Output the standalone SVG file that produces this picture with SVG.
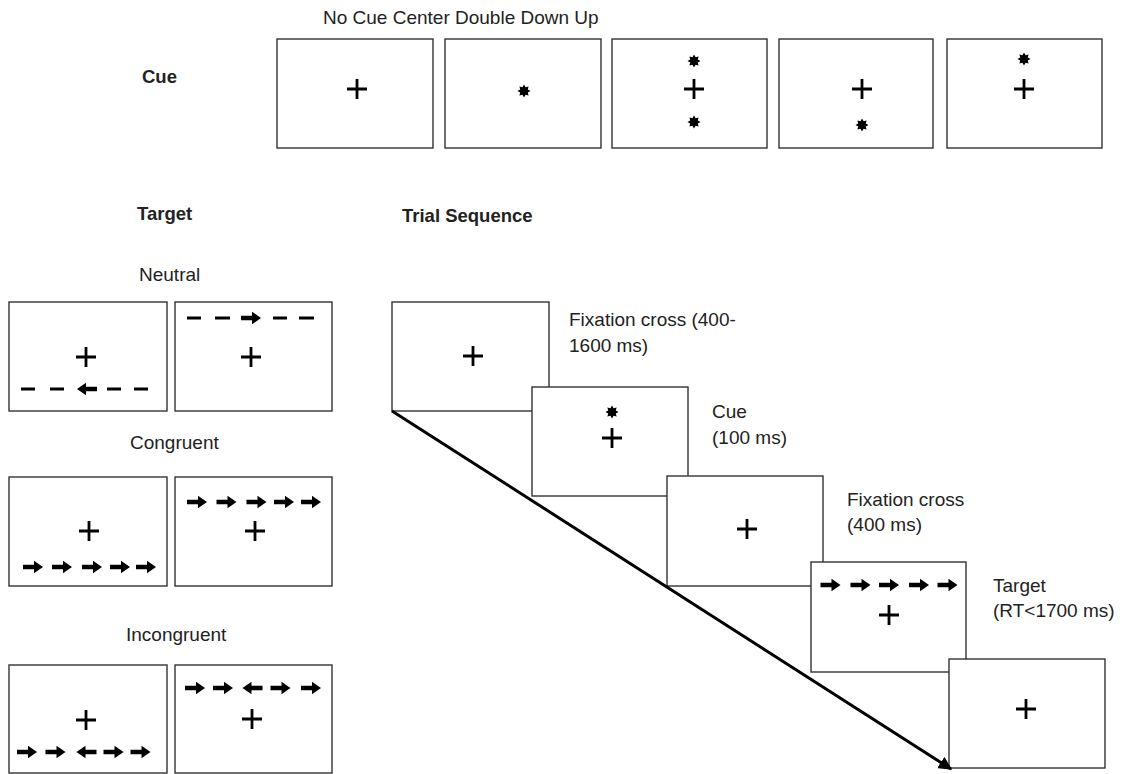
<svg xmlns="http://www.w3.org/2000/svg" xmlns:xlink="http://www.w3.org/1999/xlink" width="1131" height="774" viewBox="0 0 1131 774">
<style>
.box{fill:#fff;stroke:#333;stroke-width:1.4}
.t{font-family:"Liberation Sans",Arial,sans-serif;font-size:19px;fill:#222}
.b{font-family:"Liberation Sans",Arial,sans-serif;font-size:18.5px;font-weight:bold;fill:#222}
.dash{stroke:#000;stroke-width:3.2}
</style>
<defs>
<g id="cross"><path d="M-10,0H10M0,-10V10" stroke="#000" stroke-width="2.8" fill="none"/></g>
<polygon id="star" points="0,-6.5 1.6,-3.8 4.6,-4.6 3.8,-1.6 6.5,0 3.8,1.6 4.6,4.6 1.6,3.8 0,6.5 -1.6,3.8 -4.6,4.6 -3.8,1.6 -6.5,0 -3.8,-1.6 -4.6,-4.6 -1.6,-3.8" fill="#000"/>
<polygon id="ar" points="-10,-2.3 1,-2.3 1,-6.3 10,0 1,6.3 1,2.3 -10,2.3" fill="#000"/>
<g id="al"><use xlink:href="#ar" transform="scale(-1,1)"/></g>
<marker id="head" viewBox="0 0 10 10" refX="9" refY="5" markerWidth="4.5" markerHeight="4.5" orient="auto" markerUnits="strokeWidth"><path d="M0,0L10,5L0,10z" fill="#000"/></marker>
</defs>

<text class="t" x="323" y="24">No Cue Center Double Down Up</text>
<text class="b" x="142" y="83">Cue</text>
<text class="b" x="137" y="220">Target</text>
<text class="b" x="402" y="222">Trial Sequence</text>

<g id="cue-nocue"><rect class="box" x="277" y="39" width="156" height="109"/><use xlink:href="#cross" x="357" y="89"/></g>
<g id="cue-center"><rect class="box" x="445" y="39" width="156" height="109"/><use xlink:href="#star" x="524" y="91"/></g>
<g id="cue-double"><rect class="box" x="612" y="39" width="155" height="109"/><use xlink:href="#star" x="694" y="61"/><use xlink:href="#cross" x="694" y="89"/><use xlink:href="#star" x="694" y="122"/></g>
<g id="cue-down"><rect class="box" x="779" y="39" width="154" height="109"/><use xlink:href="#cross" x="862" y="89"/><use xlink:href="#star" x="862" y="125"/></g>
<g id="cue-up"><rect class="box" x="947" y="39" width="155" height="109"/><use xlink:href="#star" x="1024" y="59"/><use xlink:href="#cross" x="1024" y="89"/></g>

<text class="t" x="139" y="281">Neutral</text>
<g id="neutral-down"><rect class="box" x="9" y="302" width="158" height="109"/><use xlink:href="#cross" x="86" y="357"/>
<path class="dash" d="M21,389H35M50,389H64M107,389H121M134,389H148"/><use xlink:href="#al" x="87" y="389"/></g>
<g id="neutral-up"><rect class="box" x="175" y="302" width="157" height="109"/><use xlink:href="#cross" x="251" y="357"/>
<path class="dash" d="M187,318H201M215,318H230M273,318H287M299,318H314"/><use xlink:href="#ar" x="251" y="318"/></g>

<text class="t" x="130" y="449">Congruent</text>
<g id="congruent-down"><rect class="box" x="9" y="477" width="158" height="109"/><use xlink:href="#cross" x="89" y="531"/>
<use xlink:href="#ar" x="33" y="567"/><use xlink:href="#ar" x="62" y="567"/><use xlink:href="#ar" x="92" y="567"/><use xlink:href="#ar" x="120" y="567"/><use xlink:href="#ar" x="146" y="567"/></g>
<g id="congruent-up"><rect class="box" x="175" y="477" width="157" height="109"/><use xlink:href="#cross" x="255" y="531"/>
<use xlink:href="#ar" x="197" y="502"/><use xlink:href="#ar" x="226.5" y="502"/><use xlink:href="#ar" x="256.5" y="502"/><use xlink:href="#ar" x="284" y="502"/><use xlink:href="#ar" x="311" y="502"/></g>

<text class="t" x="126" y="641">Incongruent</text>
<g id="incongruent-down"><rect class="box" x="9" y="665" width="158" height="108"/><use xlink:href="#cross" x="86" y="720"/>
<use xlink:href="#ar" x="27" y="752"/><use xlink:href="#ar" x="55.5" y="752"/><use xlink:href="#al" x="86.5" y="752"/><use xlink:href="#ar" x="113.5" y="752"/><use xlink:href="#ar" x="140.5" y="752"/></g>
<g id="incongruent-up"><rect class="box" x="175" y="665" width="157" height="108"/><use xlink:href="#cross" x="252" y="719"/>
<use xlink:href="#ar" x="195" y="688"/><use xlink:href="#ar" x="223" y="688"/><use xlink:href="#al" x="252.5" y="688"/><use xlink:href="#ar" x="280.5" y="688"/><use xlink:href="#ar" x="311" y="688"/></g>

<g id="seq-fix1"><rect class="box" x="392" y="302" width="157" height="109"/><use xlink:href="#cross" x="473" y="356"/>
<text class="t" x="569" y="326">Fixation cross (400-</text><text class="t" x="569" y="352">1600 ms)</text></g>
<g id="seq-cue"><rect class="box" x="532" y="387" width="156" height="109"/><use xlink:href="#star" x="612" y="412"/><use xlink:href="#cross" x="612" y="438"/>
<text class="t" x="712" y="418">Cue</text><text class="t" x="712" y="444">(100 ms)</text></g>
<g id="seq-fix2"><rect class="box" x="667" y="476" width="156" height="110"/><use xlink:href="#cross" x="747" y="529"/>
<text class="t" x="847" y="506">Fixation cross</text><text class="t" x="847" y="531">(400 ms)</text></g>
<g id="seq-target"><rect class="box" x="811" y="562" width="155" height="110"/><use xlink:href="#cross" x="889" y="615"/>
<use xlink:href="#ar" x="830.5" y="585"/><use xlink:href="#ar" x="860.5" y="585"/><use xlink:href="#ar" x="889" y="585"/><use xlink:href="#ar" x="919" y="585"/><use xlink:href="#ar" x="947.5" y="585"/>
<text class="t" x="993" y="592">Target</text><text class="t" x="993" y="617">(RT&lt;1700 ms)</text></g>
<g id="seq-fix3"><rect class="box" x="949" y="659" width="156" height="109"/><use xlink:href="#cross" x="1026" y="709"/></g>

<g id="connectors">
<line x1="392" y1="411" x2="951" y2="769" stroke="#000" stroke-width="3" marker-end="url(#head)"/>
</g>
</svg>
